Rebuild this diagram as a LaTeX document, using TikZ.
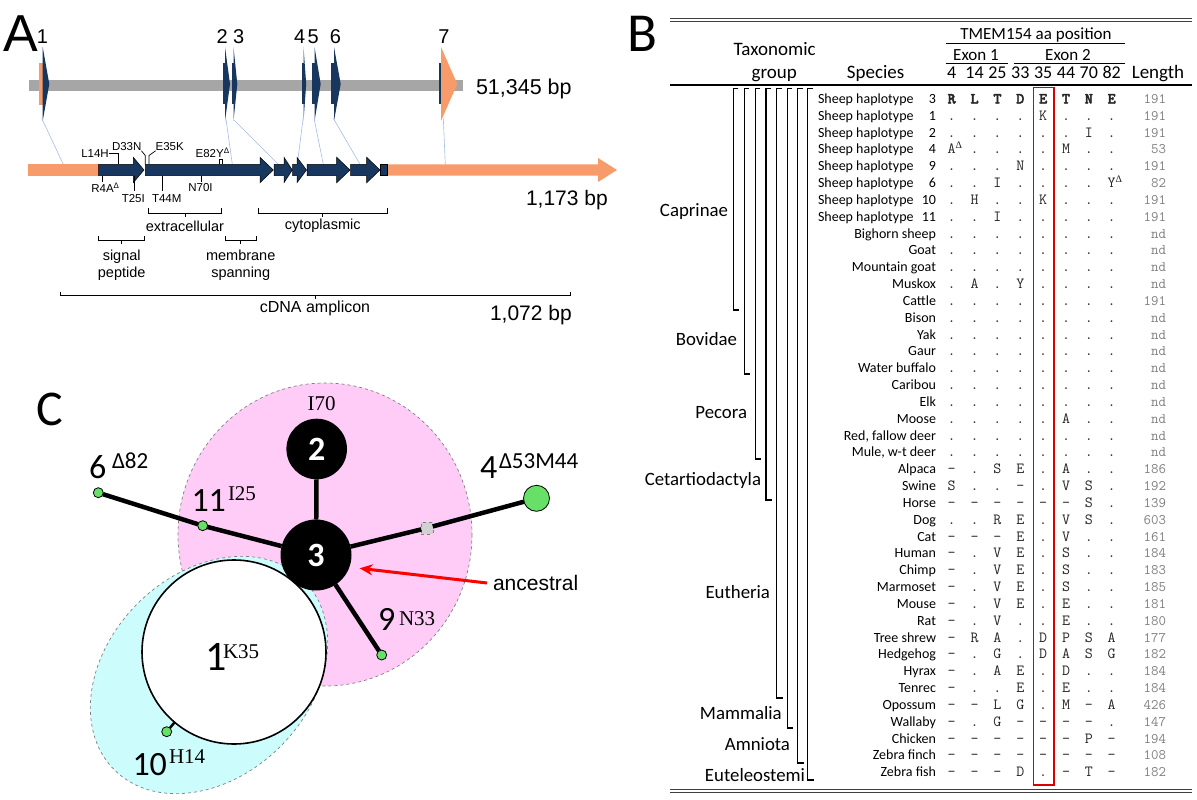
\documentclass[tikz,border=0pt]{standalone}
\usepackage{fontspec}
\setmainfont{Carlito}
\newfontfamily\arialf{Liberation Sans}
\newfontfamily\seriff{Liberation Serif}
\newfontfamily\lmbold{lmmonolt10-bold.otf}[FakeBold=2.5]
\usetikzlibrary{arrows.meta}
\definecolor{navy}{HTML}{17375E}
\definecolor{orng}{HTML}{F79B6B}
\definecolor{gbar}{HTML}{A6A6A6}
\definecolor{lblue}{HTML}{A9BCE6}
\definecolor{pinkf}{HTML}{FFCCF8}
\definecolor{cyanf}{HTML}{CCFCFC}
\definecolor{gfill}{HTML}{66E066}
\definecolor{lgray}{HTML}{7F7F7F}
\newcommand\fs[1]{\fontsize{#1}{#1}\selectfont}
\newcommand\supD{\rlap{\raisebox{5.5pt}{\seriff\fs{10}Δ}}}
\newcommand\rowbase[1]{\pgfmathsetmacro\ry{103.5+(#1-1)*16.83}}
\newcommand\cols[2]{\foreach \c [count=\k] in {#2} {\node[mn] (c#1x\k) at ({951.7+(\k-1)*22.86},\ry) {\c};}}
\newcommand\trow[4]{\rowbase{#1}%
  \node[spc] (sp#1) at (936,\ry) {#2};
  \cols{#1}{#3}%
  \node[lenc] (ln#1) at (1166,\ry) {#4};}
\newcommand\hrow[4]{\rowbase{#1}%
  \node[spc, anchor=base west] (hp#1) at (818,\ry) {Sheep haplotype};
  \node[spc] (sp#1) at (936,\ry) {#2};
  \cols{#1}{#3}%
  \node[lenc] (ln#1) at (1166,\ry) {#4};}
\newcommand\exon[4]{\fill[#4] (#1,63) rectangle (#2,104);
  \fill[#4] (#2,47) -- (#3,84) -- (#2,121) -- cycle;}
\newcommand\arr[3]{\filldraw[fill=navy, draw=black, line width=0.5pt] (#1,164.3) -- (#2,164.3) -- (#2,157.3) -- (#3,170) -- (#2,182.7) -- (#2,175.7) -- (#1,175.7) -- cycle;}
\newcommand\brk[6]{\draw[bk] (#1,#3) -- (#1,#4) -- (#2,#4) -- (#2,#3); \draw[bk] (#5,#4) -- (#5,#6);}
\newcommand\grp[2]{\draw[gline] (#1+5,88.5) -- (#1,88.5) -- (#1,#2) -- (#1+6,#2);}
\begin{document}
\begin{tikzpicture}[x=1pt,y=-1pt,
  every node/.style={inner sep=0pt, outer sep=0pt},
  af/.style={font=\arialf\fontsize{#1}{#1}\selectfont},
  hd/.style={font=\fontsize{#1}{#1}\selectfont},
  spc/.style={anchor=base east, font=\fs{14}},
  mn/.style={anchor=base, font=\ttfamily\fs{15.5}, text=black!85},
  lenc/.style={anchor=base east, font=\ttfamily\fs{14.5}, text=lgray},
  bk/.style={line width=0.7pt},
  gline/.style={line width=1.5pt},
  conn/.style={lblue, line width=0.6pt},
  edge/.style={line width=4.5pt},
  gnode/.style={circle, draw=black, line width=0.8pt, fill=gfill, minimum size=10pt},
  num/.style={font=\fs{34}, anchor=base west},
  sups/.style={font=\seriff\fs{21}, anchor=base west},
  supc/.style={font=\fs{23}, anchor=base west}]
\useasboundingbox (0,0) rectangle (1197,800);
\fill[white] (0,0) rectangle (1197,800);
% ================= Panel A =================
\node[af=52, anchor=base west] (labA) at (4,52) {A};
\fill[gbar] (29.3,80) rectangle (462.7,91);
\fill[orng] (39.3,63) rectangle (42.7,105);
\fill[navy] (42.7,47) -- (49.3,84) -- (42.7,121) -- cycle;
\exon{222.7}{225}{230}{navy}
\exon{232}{233.5}{237.3}{navy}
\exon{301.7}{303.5}{306.2}{navy}
\exon{311.7}{314.5}{320.7}{navy}
\exon{331}{334}{340.7}{navy}
\fill[navy] (439,63) rectangle (441,104);
\fill[orng] (441,47) -- (457.3,84) -- (441,121) -- cycle;
\foreach \t/\x in {1/42.5,2/222.3,3/238.7,4/299.7,5/313.3,6/335.5,7/444}
  \node[af=20, anchor=base] (ex\t) at (\x,44) {\t};
\node[af=21.5, anchor=base west] (gen) at (476,94.5) {51,345 bp};
% connectors genomic -> mRNA
\draw[conn] (41.7,118.3) -- (63.3,164.3);
\draw[conn] (226,119) -- (232.3,164.3);
\draw[conn] (234,120) -- (278.3,164.3);
\draw[conn] (303.3,117) -- (297.3,164.3);
\draw[conn] (314,118.3) -- (323.3,164.3);
\draw[conn] (333.3,118.3) -- (360,164.3);
\draw[conn] (443.3,118.3) -- (445.3,164.3);
% mRNA
\fill[orng] (28.3,164.3) rectangle (98.7,175.7);
\fill[orng] (387.7,164.3) -- (598,164.3) -- (598,158) -- (617,170) -- (598,182) -- (598,175.7) -- (387.7,175.7) -- cycle;
\arr{98.7}{133.3}{144}
\arr{145.3}{260}{273.3}
\arr{274}{284}{292.3}
\arr{292.7}{297}{306.5}
\arr{307}{336.7}{350}
\arr{350.7}{366.7}{380}
\filldraw[fill=navy, draw=black, line width=0.5pt] (380.7,164.3) rectangle (387.7,175.7);
\node[af=21, anchor=base west] (mrna) at (526,205.5) {1,173 bp};
% mutation labels
\node[af=11.5] (L14H) at (95,153.3) {L14H};
\node[af=11.5] (D33N) at (126.7,146.7) {D33N};
\node[af=11.5] (E35K) at (169.7,146.7) {E35K};
\node[af=11.5] (E82Y) at (209.7,153.3) {E82Y\rlap{\raisebox{4pt}{\fs{8}Δ}}};
\node[af=11.5] (R4A) at (102.5,187.3) {R4A\rlap{\raisebox{4pt}{\fs{8}Δ}}};
\node[af=11.5] (T25I) at (133.3,199) {T25I};
\node[af=11.5] (T44M) at (166.7,199) {T44M};
\node[af=11.5] (N70I) at (200.5,187.3) {N70I};
\draw[bk] (L14H.east) -- (118.3,153.3) -- (118.3,164.3);
\draw[bk] (D33N.south east) -- (145.3,155.5) -- (145.3,164.3);
\draw[bk] (E35K.south west) -- (149,155.5) -- (149,164.3);
\draw[bk] (219.3,164.3) -- (219.3,159.3) -- (222.7,159.3) -- (222.7,164.3);
\draw[bk] (102.7,175.7) -- (102.7,181.5);
\draw[bk] (134,175.7) -- (134,191);
\draw[bk] (162.7,175.7) -- (162.7,191);
\draw[bk] (201.7,175.7) -- (201.7,181.5);
% brackets
\brk{148.3}{221.7}{208.3}{213.3}{185}{216.8}
\brk{258.3}{387.7}{208.3}{213.3}{322.7}{216.8}
\brk{98.3}{144.3}{236}{240.7}{121.7}{244.3}
\brk{225.7}{256}{236}{240.7}{240.7}{244.3}
\brk{60.7}{570}{291.7}{295.7}{315}{299.3}
\node[af=14.5] (extra) at (185,226) {extracellular};
\node[af=14.5] (cyto) at (322.7,226) {cytoplasmic};
\node[af=14.5, align=center] (sig) at (121.7,265) {signal\\[2.5pt]peptide};
\node[af=14.5, align=center] (mem) at (240.7,265) {membrane\\[2.5pt]spanning};
\node[af=16] (cdna) at (315,308.3) {cDNA amplicon};
\node[af=21, anchor=base west] (amp) at (490,320) {1,072 bp};
% ================= Panel B =================
\node[hd=55, anchor=base west] (labB) at (627,51.7) {B};
\draw[line width=1pt, black!75] (670,18.2) -- (1192,18.2);
\draw[line width=1pt, black!75] (670,21.2) -- (1192,21.2);
\draw[line width=1.6pt] (670,85) -- (1192,85);
\draw[line width=1pt, black!75] (670,789.5) -- (1192,789.5);
\draw[line width=1pt, black!75] (670,792.5) -- (1192,792.5);
\node[hd=17, anchor=base] (tmem) at (1036,40) {TMEM154 aa position};
\draw[line width=1.2pt] (945.5,43.3) -- (1124.8,43.3);
\node[hd=17, anchor=base] (ex1) at (976,60.5) {Exon 1};
\node[hd=17, anchor=base] (ex2) at (1068,60.5) {Exon 2};
\draw[line width=1.2pt] (945.5,63.3) -- (1008,63.3);
\draw[line width=1.2pt] (1014,63.3) -- (1125,63.3);
\foreach \p [count=\k] in {4,14,25,33,35,44,70,82}
  \node[hd=18, anchor=base] (pos\k) at ({951.7+(\k-1)*22.86},78.3) {\p};
\node[hd=19, anchor=base] (taxo) at (774.7,55.7) {Taxonomic};
\node[hd=19, anchor=base] (grpw) at (774.2,78.3) {group};
\node[hd=19, anchor=base] (spec) at (875.6,78.3) {Species};
\node[hd=19, anchor=base] (leng) at (1158,78.3) {Length};
% group brackets
\grp{733.3}{310}
\grp{744.3}{374}
\grp{755.3}{459}
\grp{766}{500}
\grp{776.7}{698}
\grp{787.3}{728}
\grp{797.7}{763}
\grp{807.7}{780}
\node[hd=18.8, anchor=east] (g1) at (728,211.7) {Caprinae};
\node[hd=18.8, anchor=east] (g2) at (737,339) {Bovidae};
\node[hd=18.8, anchor=east] (g3) at (747,413) {Pecora};
\node[hd=18.8, anchor=east] (g4) at (761,480.7) {Cetartiodactyla};
\node[hd=18.8, anchor=east] (g5) at (770,591.7) {Eutheria};
\node[hd=18.8, anchor=east] (g6) at (781.7,712.7) {Mammalia};
\node[hd=18.8, anchor=east] (g7) at (790,744) {Amniota};
\node[hd=18.8, anchor=east] (g8) at (805,775) {Euteleostemi};
% rows
\hrow{1}{3}{\lmbold R,\lmbold L,\lmbold T,\lmbold D,\lmbold E,\lmbold T,\lmbold N,\lmbold E}{191}
\hrow{2}{1}{.,.,.,.,K,.,.,.}{191}
\hrow{3}{2}{.,.,.,.,.,.,I,.}{191}
\hrow{4}{4}{A\supD,.,.,.,.,M,.,.}{53}
\hrow{5}{9}{.,.,.,N,.,.,.,.}{191}
\hrow{6}{6}{.,.,I,.,.,.,.,Y\supD}{82}
\hrow{7}{10}{.,H,.,.,K,.,.,.}{191}
\hrow{8}{11}{.,.,I,.,.,.,.,.}{191}
\trow{9}{Bighorn sheep}{.,.,.,.,.,.,.,.}{nd}
\trow{10}{Goat}{.,.,.,.,.,.,.,.}{nd}
\trow{11}{Mountain goat}{.,.,.,.,.,.,.,.}{nd}
\trow{12}{Muskox}{.,A,.,Y,.,.,.,.}{nd}
\trow{13}{Cattle}{.,.,.,.,.,.,.,.}{191}
\trow{14}{Bison}{.,.,.,.,.,.,.,.}{nd}
\trow{15}{Yak}{.,.,.,.,.,.,.,.}{nd}
\trow{16}{Gaur}{.,.,.,.,.,.,.,.}{nd}
\trow{17}{Water buffalo}{.,.,.,.,.,.,.,.}{nd}
\trow{18}{Caribou}{.,.,.,.,.,.,.,.}{nd}
\trow{19}{Elk}{.,.,.,.,.,.,.,.}{nd}
\trow{20}{Moose}{.,.,.,.,.,A,.,.}{nd}
\trow{21}{Red, fallow deer}{.,.,.,.,.,.,.,.}{nd}
\trow{22}{Mule, w-t deer}{.,.,.,.,.,.,.,.}{nd}
\trow{23}{Alpaca}{–,.,S,E,.,A,.,.}{186}
\trow{24}{Swine}{S,.,.,–,.,V,S,.}{192}
\trow{25}{Horse}{–,–,–,–,–,–,S,.}{139}
\trow{26}{Dog}{.,.,R,E,.,V,S,.}{603}
\trow{27}{Cat}{–,–,–,E,.,V,.,.}{161}
\trow{28}{Human}{–,.,V,E,.,S,.,.}{184}
\trow{29}{Chimp}{–,.,V,E,.,S,.,.}{183}
\trow{30}{Marmoset}{–,.,V,E,.,S,.,.}{185}
\trow{31}{Mouse}{–,.,V,E,.,E,.,.}{181}
\trow{32}{Rat}{–,.,V,.,.,E,.,.}{180}
\trow{33}{Tree shrew}{–,R,A,.,D,P,S,A}{177}
\trow{34}{Hedgehog}{–,.,G,.,D,A,S,G}{182}
\trow{35}{Hyrax}{–,.,A,E,.,D,.,.}{184}
\trow{36}{Tenrec}{–,.,.,E,.,E,.,.}{184}
\trow{37}{Opossum}{–,–,L,G,.,M,–,A}{426}
\trow{38}{Wallaby}{–,.,G,–,–,–,–,.}{147}
\trow{39}{Chicken}{–,–,–,–,–,–,P,–}{194}
\trow{40}{Zebra finch}{–,–,–,–,–,–,–,–}{108}
\trow{41}{Zebra fish}{–,–,–,D,.,–,T,–}{182}
\draw[red!85!black, line width=1.5pt] (1033.3,87.7) rectangle (1054,785);
% ================= Panel C =================
\node[hd=50, anchor=base west] (labC) at (36,425) {C};
\filldraw[fill=pinkf, draw=gray, dashed, line width=0.7pt] (325,534.5) ellipse [x radius=147, y radius=151.5];
\filldraw[fill=cyanf, draw=gray, dashed, line width=0.7pt, rotate around={45:(209,675)}] (209,675) ellipse [x radius=134, y radius=101];
\node[circle, draw=black, fill=white, line width=1.6pt, minimum size=184pt] (h1) at (234,652) {};
\node[circle, fill=black, minimum size=71pt, text=white, font=\bfseries\fs{34}] (h3) at (316,555) {3};
\node[circle, fill=black, minimum size=60.6pt, text=white, font=\bfseries\fs{34}] (h2) at (316.7,449) {2};
\node[gnode] (h6) at (98.3,492.7) {};
\node[gnode] (h11) at (202.7,525.7) {};
\node[gnode] (h9) at (381.7,655) {};
\node[gnode, minimum size=26pt] (h4) at (536.5,498.3) {};
\node[gnode] (h10) at (166.7,731.7) {};
\node[draw=gray, dashed, fill=black!18, minimum size=11.5pt, line width=0.5pt] (sq) at (427,528) {};
\draw[edge] (h2) -- (h3);
\draw[edge] (h6) -- (h11);
\draw[edge] (h11) -- (h3);
\draw[edge] (h3) -- (sq);
\draw[edge] (sq) -- (h4);
\draw[edge] (h3) -- (h9);
\draw[line width=2.5pt] (h10) -- (h1);
\node[sups, anchor=base] (l70) at (321.7,410) {I70};
\node[num] (n6) at (89,478) {6};
\node[supc] (s6) at (112,468) {Δ82};
\node[num] (n11) at (191.5,511) {11};
\node[sups] (s11) at (228,500) {I25};
\node[num] (n9) at (378,630) {9};
\node[sups] (s9) at (399,625) {N33};
\node[num] (n4) at (480,478) {4};
\node[supc] (s4) at (499,468) {Δ53M44};
\node[num, font=\fs{42}] (n1) at (205,670) {1};
\node[sups] (s1) at (223,658) {K35};
\node[num] (n10) at (132.5,775) {10};
\node[sups] (s10) at (169,763) {H14};
\node[af=21, anchor=west] (anc) at (493,583) {ancestral};
\coordinate (tip) at (359.6,568.3);
\draw[red, line width=3pt, -{Stealth[length=13pt,width=11pt]}] ([xshift=-6pt]anc.west) -- (tip);
\end{tikzpicture}
\end{document}
